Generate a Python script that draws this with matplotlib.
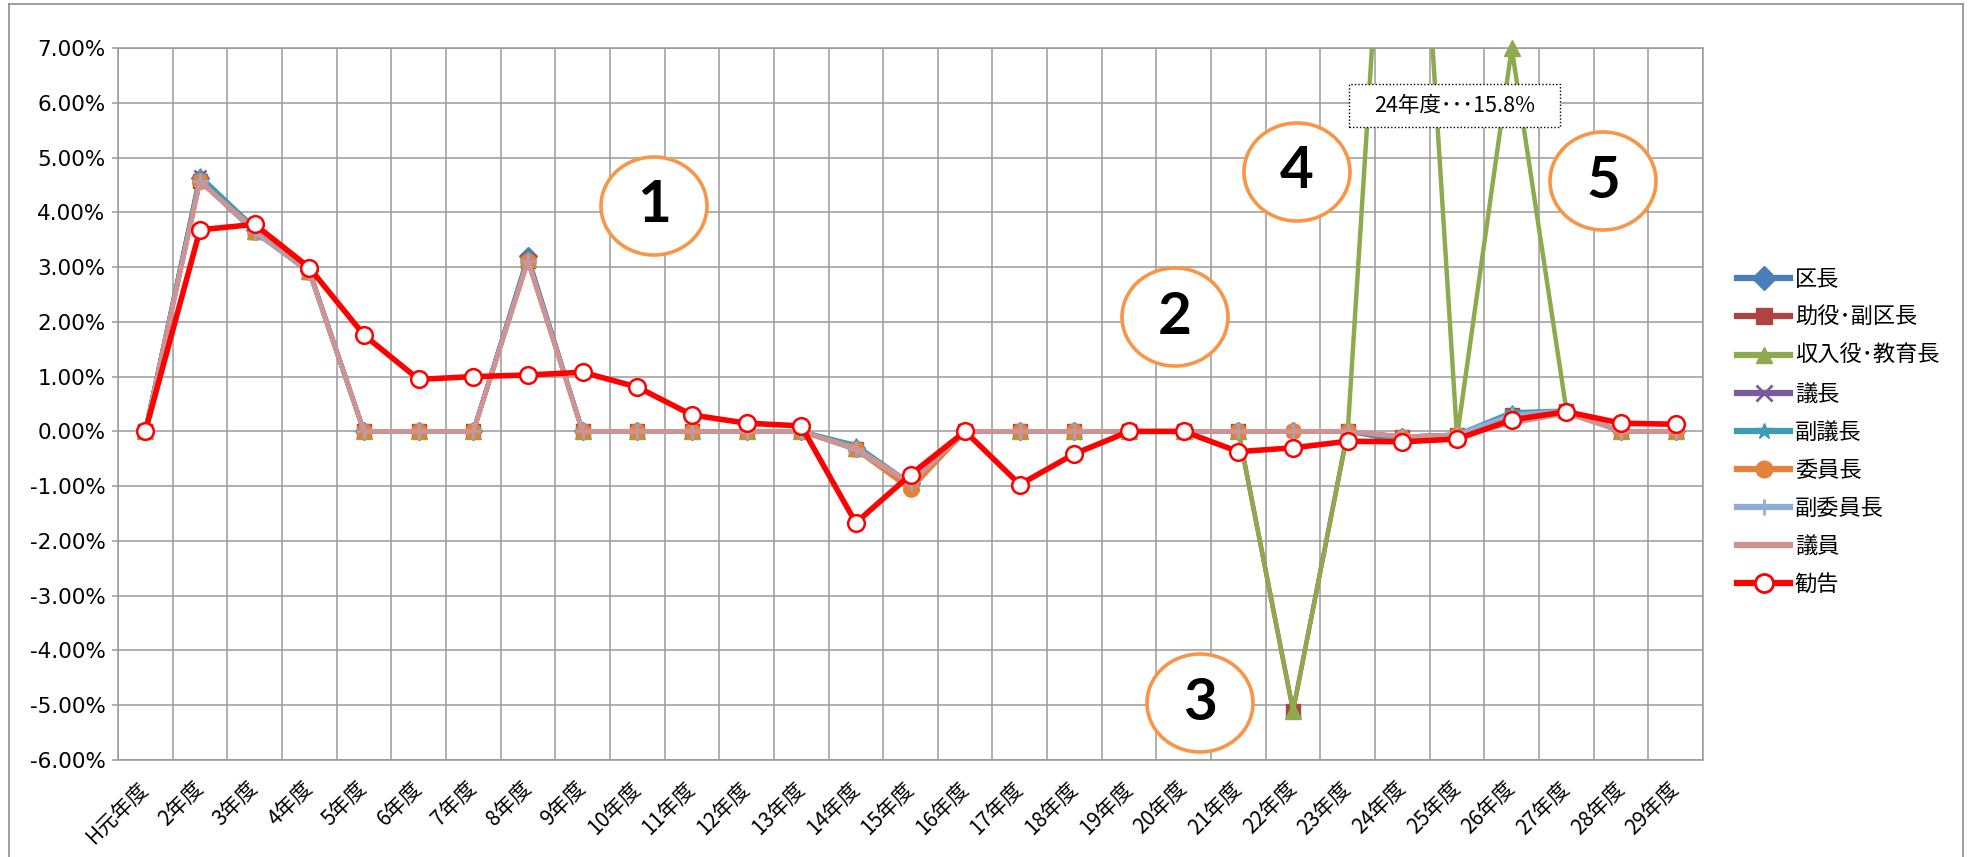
import numpy as np
import matplotlib
matplotlib.use("Agg")
import matplotlib.pyplot as plt
from matplotlib.patches import Ellipse, Rectangle
from matplotlib.lines import Line2D
from matplotlib.ticker import FuncFormatter

plt.rcParams['font.family'] = ['Noto Sans CJK JP', 'DejaVu Sans']

years = ["H元年度", "2年度", "3年度", "4年度", "5年度", "6年度", "7年度", "8年度", "9年度",
         "10年度", "11年度", "12年度", "13年度", "14年度", "15年度", "16年度", "17年度",
         "18年度", "19年度", "20年度", "21年度", "22年度", "23年度", "24年度", "25年度",
         "26年度", "27年度", "28年度", "29年度"]

kucho = [0, 4.62, 3.68, 2.93, 0, 0, 0, 3.20, 0, 0, 0, 0, 0, -0.30, -0.95, 0, 0, 0, 0, 0,
         0, 0, 0, -0.10, -0.06, 0.30, 0.38, 0, 0]
joyaku = [0, 4.58, 3.64, 2.91, 0, 0, 0, 3.12, 0, 0, 0, 0, 0, -0.33, -0.95, 0, 0, 0, 0, 0,
          0, -5.10, 0, -0.10, -0.06, 0.30, 0.38, 0, 0]
shunyu = [0, 4.66, 3.66, 2.93, 0, 0, 0, 3.15, 0, 0, 0, 0, 0, -0.30, -0.95, 0, 0, 0, 0, 0,
          0, -5.10, 0, 15.8, -0.10, 7.00, 0.39, 0, 0]
gicho = [0, 4.66, 3.68, 2.93, 0, 0, 0, 3.15, 0, 0, 0, 0, 0, -0.30, -0.95, 0, 0, 0, 0, 0,
         0, 0, 0, -0.18, -0.06, 0.30, 0.38, 0, 0]
fukugicho = [0, 4.66, 3.72, 2.95, 0, 0, 0, 3.15, 0, 0, 0, 0, 0, -0.25, -0.95, 0, 0, 0, 0, 0,
             0, 0, 0, -0.15, -0.06, 0.35, 0.38, 0, 0]
iincho = [0, 4.58, 3.64, 2.91, 0, 0, 0, 3.12, 0, 0, 0, 0, 0, -0.33, -1.06, 0, 0, 0, 0, 0,
          0, 0, 0, -0.10, -0.06, 0.20, 0.38, 0, 0]
fukuiincho = [0, 4.58, 3.64, 2.91, 0, 0, 0, 3.12, 0, 0, 0, 0, 0, -0.33, -0.95, 0, 0, 0, 0, 0,
              0, 0, 0, -0.10, -0.06, 0.30, 0.38, 0, 0]
giin = [0, 4.55, 3.70, 2.93, 0, 0, 0, 3.10, 0, 0, 0, 0, 0, -0.30, -0.94, 0, 0, 0, 0, 0,
        0, 0, 0, -0.09, -0.09, 0.15, 0.33, 0, 0]
kankoku = [0, 3.68, 3.78, 2.99, 1.76, 0.95, 1.00, 1.03, 1.08, 0.81, 0.30, 0.15, 0.10, -1.67,
           -0.79, 0, -0.97, -0.41, 0, 0, -0.37, -0.30, -0.18, -0.19, -0.14, 0.21, 0.36, 0.15, 0.13]

names = ["区長", "助役･副区長", "収入役･教育長", "議長", "副議長", "委員長", "副委員長", "議員", "勧告"]
series = [kucho, joyaku, shunyu, gicho, fukugicho, iincho, fukuiincho, giin, kankoku]
colors = ["#4A7EBB", "#AE4441", "#8DAA4E", "#7A5C9E", "#3E9CB5", "#E5813A", "#91ACD5", "#D29292", "#FF0000"]
markers = ["D", "s", "^", "x", "*", "o", "+", None, "o"]
msizes = [9, 10, 11, 9, 10, 11, 12, 0, 12]

ymin, ymax = -6, 7

fig = plt.figure(figsize=(19.70, 8.57), dpi=100)
ax = fig.add_axes([118/1970, 1-760/857, (1703-118)/1970, (760-48)/857])

x = np.arange(len(years))
for i, (nm, vals, c, m, ms) in enumerate(zip(names, series, colors, markers, msizes)):
    v = np.array(vals, dtype=float)
    lw = 4.0 if nm == "勧告" else 3.2
    ax.plot(x, v, color=c, lw=lw, zorder=3 + i * 0.1, solid_capstyle='round')
    if m is not None:
        vm = np.where((v <= ymax + 0.01) & (v >= ymin), v, np.nan)
        if nm == "勧告":
            ax.plot(x, vm, ls='none', marker=m, ms=ms, mfc='white', mec=c, mew=1.8,
                    zorder=3.05 + i * 0.1, clip_on=False)
        elif m in ("x", "+"):
            ax.plot(x, vm, ls='none', marker=m, ms=ms, mec=c, mew=1.8,
                    zorder=3.05 + i * 0.1, clip_on=False)
        else:
            ax.plot(x, vm, ls='none', marker=m, ms=ms, mfc=c, mec=c, mew=1.0,
                    zorder=3.05 + i * 0.1, clip_on=False)

# legend
handles = []
for nm, c, m, ms in zip(names, colors, markers, msizes):
    lw = 4.5
    if nm == "勧告":
        h = Line2D([], [], color=c, lw=lw, marker=m, ms=13, mfc='white', mec=c, mew=2.0)
    elif m is None:
        h = Line2D([], [], color=c, lw=lw)
    elif m in ("x", "+"):
        h = Line2D([], [], color=c, lw=lw, marker=m, ms=12, mec=c, mew=2.0)
    else:
        h = Line2D([], [], color=c, lw=lw, marker=m, ms=12, mfc=c, mec=c)
    handles.append(h)
leg = fig.legend(handles, names, loc='center left', bbox_to_anchor=(1737/1970, 1-432/857),
                 frameon=False, fontsize=16, handlelength=2.4, handletextpad=0.2,
                 labelspacing=0.68, borderpad=0, borderaxespad=0)

ax.set_xlim(-0.5, len(years) - 0.5)
ax.set_ylim(ymin, ymax)
ax.set_xticks(x)
ax.set_xticklabels(years, rotation=45, ha='right', va='center', rotation_mode='anchor',
                   fontsize=15)
ax.set_xticks(np.arange(-0.5, len(years), 1.0), minor=True)
ax.set_yticks(np.arange(ymin, ymax + 1, 1))
ax.yaxis.set_major_formatter(FuncFormatter(lambda v, p: f"{v:.2f}%"))
for lab in ax.get_yticklabels():
    lab.set_fontfamily('DejaVu Sans')
ax.tick_params(axis='y', labelsize=15.5, length=4, color='#999999', width=1.1, pad=5)
ax.tick_params(axis='x', which='both', length=0, pad=18)
ax.grid(True, axis='y', which='major', color='#9A9A9A', lw=1.1, zorder=0)
ax.grid(True, axis='x', which='minor', color='#9A9A9A', lw=1.1, zorder=0)
ax.grid(False, axis='x', which='major')
ax.set_axisbelow(True)
for s in ax.spines.values():
    s.set_color('#9A9A9A')
    s.set_linewidth(1.1)

# numbered circles
circles = [("1", 654, 206), ("2", 1175, 317), ("3", 1200, 703), ("4", 1297, 172), ("5", 1603, 181)]
for t, cx, cy in circles:
    e = Ellipse((cx/1970, 1-cy/857), 106/1970, 98/857, transform=fig.transFigure,
                facecolor='white', edgecolor='#F79646', lw=2.6, zorder=10)
    fig.add_artist(e)
    fig.text(cx/1970, 1-cy/857, t, ha='center', va='center', fontsize=42, fontweight='bold',
             family='Lato', color='black', zorder=11)

# annotation box
bx0, by0, bx1, by1 = 1349, 84, 1560, 127
r = Rectangle((bx0/1970, 1-by1/857), (bx1-bx0)/1970, (by1-by0)/857, transform=fig.transFigure,
              facecolor='white', edgecolor='black', lw=1.0, ls=(0, (1, 1.5)), zorder=10)
fig.add_artist(r)
fig.text((bx0+bx1)/2/1970, 1-(by0+by1)/2/857, "24年度･･･15.8%", ha='center', va='center',
         fontsize=15.5, color='black', zorder=11)

# chart outer border (left, top, right)
bc = '#8C8C8C'
fig.add_artist(Line2D([9/1970, 9/1970], [0, 1-4/857], transform=fig.transFigure, color=bc, lw=1.2))
fig.add_artist(Line2D([9/1970, 1963/1970], [1-4/857, 1-4/857], transform=fig.transFigure, color=bc, lw=1.2))
fig.add_artist(Line2D([1963/1970, 1963/1970], [0, 1-4/857], transform=fig.transFigure, color=bc, lw=1.2))

fig.savefig("out.png", dpi=100)
